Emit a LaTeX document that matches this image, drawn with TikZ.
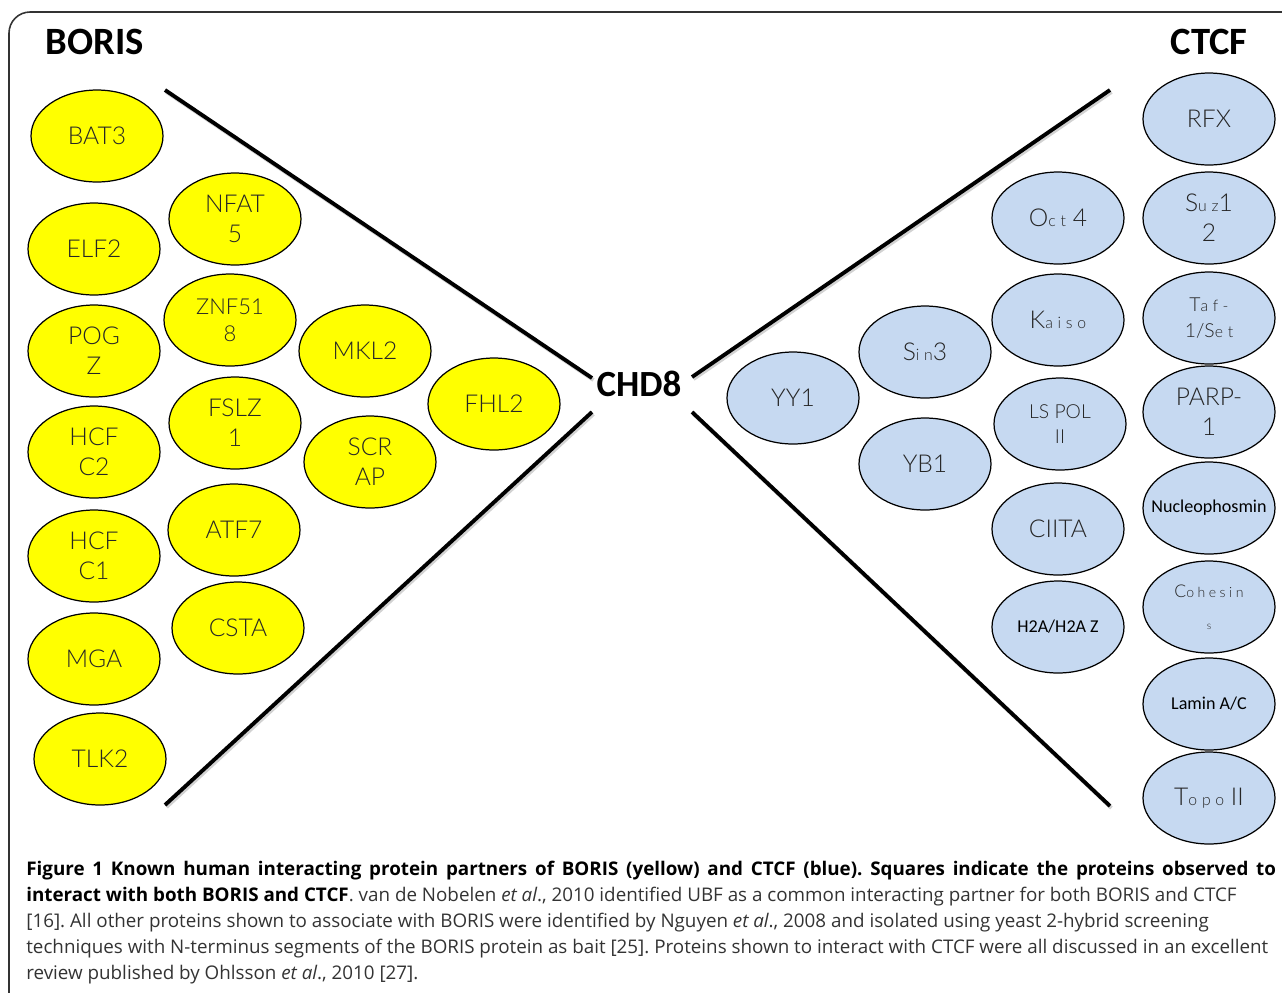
\documentclass[tikz,border=0pt]{standalone}
\usepackage{fontspec}
\usetikzlibrary{shapes.geometric}
\setmainfont{Open Sans}
\newfontfamily\thinfont{Lato Light}
\newfontfamily\calfont{Carlito}
\definecolor{borisyellow}{HTML}{FFFF00}
\definecolor{ctcfblue}{HTML}{C6D9F1}
\newcommand\lo[1]{{\fontsize{9}{10}\selectfont\addfontfeature{LetterSpace=30}#1}}

\begin{document}
\begin{tikzpicture}[x=0.02cm, y=-0.02cm,
  prot/.style={ellipse, draw, line width=0.7pt, minimum width=2.64cm,
    minimum height=1.84cm, inner sep=0pt, align=center, text=black!85,
    font={\thinfont\fontsize{14}{17}\selectfont}},
  boris/.style={prot, fill=borisyellow},
  ctcf/.style={prot, fill=ctcfblue},
  head/.style={font={\calfont\bfseries\fontsize{22}{26}\selectfont}},
  arm/.style={line width=2.2pt}]
  \useasboundingbox (0,0) rectangle (1282,992);
  \draw[black!80, line width=0.9pt, rounded corners=12] (9,1000) -- (9,12) -- (1290,12);

  \node[head] (boristitle) at (95,42) {BORIS};
  \node[head] (ctcftitle) at (1209,42) {CTCF};
  \node[head, font={\calfont\bfseries\fontsize{21}{25}\selectfont}] (chd8) at (639,384) {CHD8};

  \coordinate (bu) at (165,90);
  \coordinate (bl) at (165,805);
  \coordinate (cu) at (1110,90);
  \coordinate (cl) at (1110,806);
  \coordinate (cul) at ([shift={(-47,-6)}]chd8.center);
  \coordinate (cll) at ([shift={(-47,28)}]chd8.center);
  \coordinate (cur) at ([shift={(53,-7)}]chd8.center);
  \coordinate (clr) at ([shift={(53,28)}]chd8.center);
  \foreach \a/\b in {bu/cul, bl/cll, cu/cur, cl/clr} {
    \draw[arm, gray!35] ([shift={(1.5,2)}]\a) -- ([shift={(1.5,2)}]\b);
    \draw[arm] (\a) -- (\b);
  }

  \node[boris] (bat3) at (97,136) {BAT3};
  \node[boris] (elf2) at (94,249) {ELF2};
  \node[boris] (pogz) at (94,351) {POG\\Z};
  \node[boris] (hcfc2) at (94,452) {HCF\\C2};
  \node[boris] (hcfc1) at (94,556) {HCF\\C1};
  \node[boris] (mga) at (94,659) {MGA};
  \node[boris] (tlk2) at (100,759) {TLK2};
  \node[boris] (nfat5) at (235,219) {NFAT\\5};
  \node[boris, font={\thinfont\fontsize{12.5}{15.5}\selectfont}] (znf518) at (230,320) {ZNF51\\8};
  \node[boris] (fslz1) at (235,423) {FSLZ\\1};
  \node[boris] (atf7) at (234,530) {ATF7};
  \node[boris] (csta) at (238,628) {CSTA};
  \node[boris] (mkl2) at (365,351) {MKL2};
  \node[boris] (scrap) at (370,462) {SCR\\AP};
  \node[boris] (fhl2) at (494,404) {FHL2};

  \node[ctcf] (rfx) at (1209,119) {RFX};
  \node[ctcf] (suz12) at (1209,218) {S\lo{uz}1\\2};
  \node[ctcf, font={\thinfont\fontsize{11}{15}\selectfont}] (taf1) at (1209,318) {T\lo{af-}\\1/S\lo{et}};
  \node[ctcf] (parp1) at (1209,412) {PARP-\\1};
  \node[ctcf, text=black] (npm) at (1209,508) {\makebox[0pt]{\calfont\fontsize{10.3}{12}\selectfont Nucleophosmin}};
  \node[ctcf, font={\thinfont\fontsize{10}{18}\selectfont}] (cohesins) at (1209,607) {C{\fontsize{8}{10}\selectfont\addfontfeature{LetterSpace=25}ohesin}\\{\fontsize{6}{7}\selectfont s}};
  \node[ctcf, text=black] (lamin) at (1209,704) {\calfont\fontsize{10.3}{12}\selectfont Lamin A/C};
  \node[ctcf] (topo) at (1209,798) {T\lo{opo} II};
  \node[ctcf] (oct4) at (1058,218) {O\lo{ct} 4};
  \node[ctcf] (kaiso) at (1058,320) {K\lo{aiso}};
  \node[ctcf, font={\thinfont\fontsize{11}{14}\selectfont}] (lspol) at (1060,424) {LS POL\\II};
  \node[ctcf] (ciita) at (1058,529) {CIITA};
  \node[ctcf, text=black] (h2a) at (1058,627) {\calfont\fontsize{10.3}{12}\selectfont H2A/H2A Z};
  \node[ctcf] (sin3) at (925,352) {S\lo{in}3};
  \node[ctcf] (yb1) at (925,464) {YB1};
  \node[ctcf] (yy1) at (793,398) {YY1};

  \node[anchor=north west, inner sep=0pt, text width=25cm, align=justify, text=black!80,
    font={\fontsize{10.7}{14.7}\selectfont\frenchspacing}] (caption) at (26,861)
    {\textcolor{black}{\bfseries Figure 1 Known human interacting protein partners of BORIS (yellow) and CTCF (blue). Squares indicate the proteins observed to}\linebreak
     \textcolor{black}{\bfseries interact with both BORIS and CTCF}. van de Nobelen \emph{et al}., 2010 identified UBF as a common interacting partner for both BORIS and CTCF\newline
     {[16]}. All other proteins shown to associate with BORIS were identified by Nguyen \emph{et al}., 2008 and isolated using yeast 2-hybrid screening\newline
     techniques with N-terminus segments of the BORIS protein as bait [25]. Proteins shown to interact with CTCF were all discussed in an excellent\newline
     review published by Ohlsson \emph{et al}., 2010 [27].};
\end{tikzpicture}
\end{document}
